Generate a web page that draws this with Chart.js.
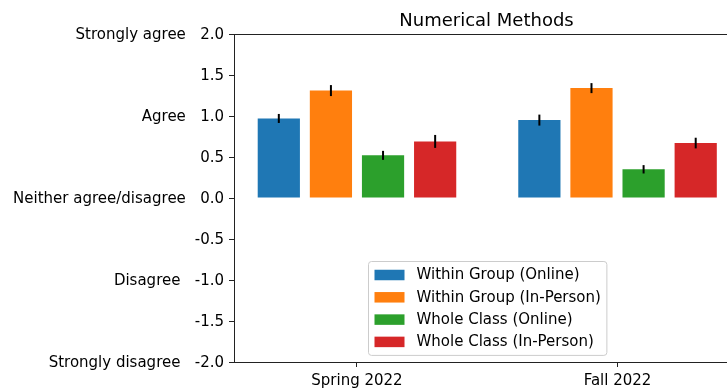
<!DOCTYPE html>
<html>
<head>
<meta charset="utf-8">
<script src="https://cdn.jsdelivr.net/npm/chart.js@4/dist/chart.umd.min.js"></script>
<style>
  html, body { margin: 0; padding: 0; background: #fff; overflow: hidden; }
  #wrap { width: 727px; height: 388px; overflow: hidden; position: relative; }
  #c { position: absolute; left: 0; top: 0; }
</style>
</head>
<body>
<div id="wrap"><canvas id="c" width="760" height="388"></canvas></div>
<script>
// Survey terms and response series (mean Likert score, -2 .. 2)
const terms = ['Spring 2022', 'Fall 2022'];
const seriesNames = ['Within Group (Online)', 'Within Group (In-Person)', 'Whole Class (Online)', 'Whole Class (In-Person)'];
const seriesColors = ['#1f77b4', '#ff7f0e', '#2ca02c', '#d62728'];

const withinOnline   = [0.97, 0.95];
const withinInPerson = [1.31, 1.34];
const wholeOnline    = [0.52, 0.35];
const wholeInPerson  = [0.69, 0.67];

// Standard errors for each bar
const withinOnlineErr   = [0.055, 0.067];
const withinInPersonErr = [0.067, 0.061];
const wholeOnlineErr    = [0.055, 0.051];
const wholeInPersonErr  = [0.079, 0.065];

// Y-axis ticks and the Likert wording shown beside them
const yTickValues = [-2, -1.5, -1, -0.5, 0, 0.5, 1, 1.5, 2];
const likertValues = [2, 1, 0, -1, -2];
const likertWords = ['Strongly agree', 'Agree', 'Neither agree/disagree', 'Disagree', 'Strongly disagree'];

const chartTitle = 'Numerical Methods';

const seriesValues = [withinOnline, withinInPerson, wholeOnline, wholeInPerson];
const seriesErrors = [withinOnlineErr, withinInPersonErr, wholeOnlineErr, wholeInPersonErr];

const FONT = "'DejaVu Sans', sans-serif";
const INK = '#222';

Chart.defaults.font.family = FONT;
Chart.defaults.font.size = 15;
Chart.defaults.color = '#000';

const datasets = seriesNames.map((name, i) => ({
  label: name,
  data: terms.map((t, j) => ({ x: j, y: seriesValues[i][j] })),
  errors: seriesErrors[i],
  backgroundColor: seriesColors[i],
  borderWidth: 0,
  categoryPercentage: 0.8,
  barPercentage: 0.81
}));

// Error bars, top/right spines, title and in-axes legend
const decor = {
  id: 'decor',
  afterDatasetsDraw(chart) {
    const ctx = chart.ctx, ys = chart.scales.y;
    ctx.save();
    ctx.strokeStyle = '#000';
    ctx.lineWidth = 2;
    chart.data.datasets.forEach((ds, i) => {
      chart.getDatasetMeta(i).data.forEach((bar, j) => {
        const v = ds.data[j].y, e = ds.errors[j];
        ctx.beginPath();
        ctx.moveTo(bar.x, ys.getPixelForValue(v + e));
        ctx.lineTo(bar.x, ys.getPixelForValue(v - e));
        ctx.stroke();
      });
    });
    ctx.restore();
  },
  afterDraw(chart) {
    const ctx = chart.ctx, a = chart.chartArea;
    ctx.save();
    // top and right spines
    ctx.strokeStyle = INK;
    ctx.lineWidth = 1;
    ctx.beginPath();
    ctx.moveTo(a.left, a.top + 0.5);
    ctx.lineTo(a.right + 0.5, a.top + 0.5);
    ctx.lineTo(a.right + 0.5, a.bottom);
    ctx.stroke();

    // title
    ctx.fillStyle = '#000';
    ctx.font = '18px ' + FONT;
    ctx.textAlign = 'center';
    ctx.textBaseline = 'alphabetic';
    ctx.fillText(chartTitle, (a.left + a.right) / 2 - 0.5, a.top - 8);

    // legend, lower center inside the axes
    const fs = 15;
    ctx.font = fs + 'px ' + FONT;
    const pad = 0.4 * fs, handleW = 2 * fs, handleH = 0.7 * fs, gap = 0.8 * fs;
    const rowPitch = 22.3, rowH = 15;
    const textW = Math.max(...seriesNames.map(n => ctx.measureText(n).width));
    const boxW = pad + handleW + gap + textW + pad;
    const boxH = pad * 2 + rowPitch * (seriesNames.length - 1) + rowH;
    const bx = Math.round((a.left + a.right) / 2 - boxW / 2) + 0.5;
    const by = Math.round(a.bottom - 7.5 - boxH) + 0.5;
    ctx.beginPath();
    ctx.roundRect(bx, by, boxW, boxH, 3);
    ctx.fillStyle = 'rgba(255,255,255,0.8)';
    ctx.fill();
    ctx.strokeStyle = '#cccccc';
    ctx.lineWidth = 1;
    ctx.stroke();
    ctx.textAlign = 'left';
    ctx.textBaseline = 'middle';
    seriesNames.forEach((n, i) => {
      const cy = by + pad + rowH / 2 + i * rowPitch;
      ctx.fillStyle = seriesColors[i];
      ctx.fillRect(bx + pad, cy - handleH / 2, handleW, handleH);
      ctx.fillStyle = '#000';
      ctx.fillText(n, bx + pad + handleW + gap, cy + 0.5);
    });
    ctx.restore();
  }
};

new Chart(document.getElementById('c'), {
  type: 'bar',
  data: { datasets },
  options: {
    responsive: false,
    animation: false,
    events: [],
    layout: { padding: { top: 34, right: 20, left: 0, bottom: 0 } },
    plugins: { legend: { display: false }, title: { display: false }, tooltip: { enabled: false } },
    scales: {
      x: {
        type: 'linear',
        offset: false,
        min: -0.472,
        max: 1.470,
        afterFit(s) { s.height = 26; },
        afterBuildTicks(s) { s.ticks = terms.map((t, j) => ({ value: j })); },
        ticks: {
          autoSkip: false,
          maxRotation: 0,
          padding: 5,
          font: { size: 15 },
          color: '#000',
          callback: v => terms[v]
        },
        grid: { display: true, offset: false, drawOnChartArea: false, drawTicks: true, tickLength: 5, color: INK, lineWidth: 1 },
        border: { display: true, color: INK, width: 1 }
      },
      y: {
        min: -2,
        max: 2,
        afterFit(s) { s.width = 234; },
        afterBuildTicks(s) { s.ticks = yTickValues.map(v => ({ value: v })); },
        ticks: {
          padding: 5,
          labelOffset: 1.5,
          font: { size: 15 },
          color: '#000',
          callback: v => {
            const k = likertValues.indexOf(v);
            const num = v.toFixed(1);
            return k >= 0 ? likertWords[k] + '   ' + num : num;
          }
        },
        grid: { display: true, drawOnChartArea: false, drawTicks: true, tickLength: 5, color: INK, lineWidth: 1 },
        border: { display: true, color: INK, width: 1 }
      }
    }
  },
  plugins: [decor]
});
</script>
</body>
</html>
